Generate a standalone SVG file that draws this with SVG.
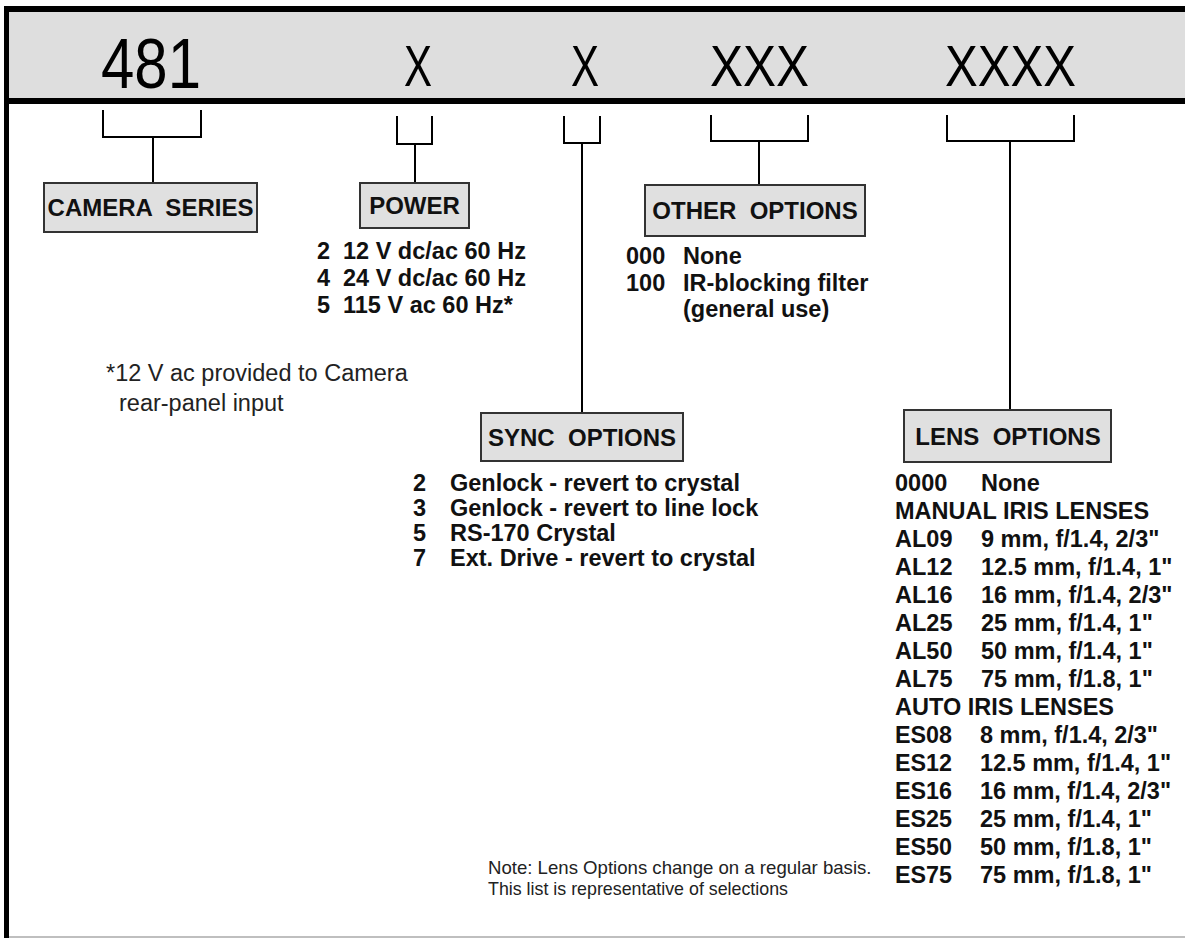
<svg xmlns="http://www.w3.org/2000/svg" width="1185" height="938" viewBox="0 0 1185 938">
<style>
.hdr{font-family:"Liberation Sans",Arial,sans-serif;fill:#000}
.box rect{fill:#e0e0e0;stroke:#333;stroke-width:2}
.lbl{font-family:"Liberation Sans",Arial,sans-serif;font-weight:bold;font-size:24px;fill:#111;text-anchor:middle;white-space:pre}
.b{font-family:"Liberation Sans",Arial,sans-serif;font-weight:bold;font-size:23.5px;fill:#111}
.n{font-family:"Liberation Sans",Arial,sans-serif;font-weight:bold;font-size:24px;fill:#111}
.r{font-family:"Liberation Sans",Arial,sans-serif;font-size:23.5px;fill:#222}
.rn{font-family:"Liberation Sans",Arial,sans-serif;font-size:18.6px;fill:#222}
.conn path{fill:none;stroke:#000;stroke-width:2}
</style>
<rect x="0" y="0" width="1185" height="938" fill="#fff"/>
<g id="header">
<rect x="7" y="9" width="1180" height="92" fill="#dedede"/>
<line x1="4" y1="9" x2="1185" y2="9" stroke="#000" stroke-width="6"/>
<line x1="4" y1="101" x2="1185" y2="101" stroke="#000" stroke-width="6"/>
<line x1="6.5" y1="6" x2="6.5" y2="938" stroke="#000" stroke-width="5"/>
<line x1="9" y1="937" x2="1185" y2="937" stroke="#aaa" stroke-width="1.5"/>
<text class="hdr" x="101" y="88" font-size="71" textLength="100" lengthAdjust="spacingAndGlyphs">481</text>
<text class="hdr" x="404" y="86" font-size="57" textLength="28" lengthAdjust="spacingAndGlyphs">X</text>
<text class="hdr" x="571" y="86" font-size="57" textLength="28" lengthAdjust="spacingAndGlyphs">X</text>
<text class="hdr" x="710" y="86" font-size="57" textLength="99" lengthAdjust="spacingAndGlyphs">XXX</text>
<text class="hdr" x="945" y="86" font-size="57" textLength="131" lengthAdjust="spacingAndGlyphs">XXXX</text>
</g>
<g id="connectors" class="conn">
<path d="M103 110 V137 H201 V110 M153 137 V183"/>
<path d="M397 116 V144 H432 V116 M415 144 V183"/>
<path d="M564 116 V143 H600 V116 M582 143 V413"/>
<path d="M711 115 V141 H808 V115 M759 141 V185"/>
<path d="M947 115 V141 H1074 V115 M1010 141 V410"/>
</g>
<g id="camera-series" class="box">
<rect x="44" y="183" width="213" height="49"/>
<text class="lbl" x="150.5" y="216" xml:space="preserve">CAMERA  SERIES</text>
<text class="r" x="106" y="381">*12 V ac provided to Camera</text>
<text class="r" x="119" y="411">rear-panel input</text>
</g>
<g id="power" class="box">
<rect x="360" y="183" width="109" height="45"/>
<text class="lbl" x="414.5" y="214">POWER</text>
<text class="b" x="317" y="259">2</text><text class="b" x="343" y="259">12 V dc/ac 60 Hz</text>
<text class="b" x="317" y="286">4</text><text class="b" x="343" y="286">24 V dc/ac 60 Hz</text>
<text class="b" x="317" y="313">5</text><text class="b" x="343" y="313">115 V ac 60 Hz*</text>
</g>
<g id="other-options" class="box">
<rect x="645" y="185" width="220" height="51"/>
<text class="lbl" x="755" y="219" xml:space="preserve">OTHER  OPTIONS</text>
<text class="b" x="626" y="264">000</text><text class="b" x="683" y="264">None</text>
<text class="b" x="626" y="291">100</text><text class="b" x="683" y="291">IR-blocking filter</text>
<text class="b" x="683" y="317">(general use)</text>
</g>
<g id="sync-options" class="box">
<rect x="481" y="413" width="202" height="48"/>
<text class="lbl" x="582" y="445.5" font-size="23.5" xml:space="preserve">SYNC  OPTIONS</text>
<text class="b" x="413" y="491">2</text><text class="b" x="450" y="491">Genlock - revert to crystal</text>
<text class="b" x="413" y="516">3</text><text class="b" x="450" y="516">Genlock - revert to line lock</text>
<text class="b" x="413" y="541">5</text><text class="b" x="450" y="541">RS-170 Crystal</text>
<text class="b" x="413" y="566">7</text><text class="b" x="450" y="566">Ext. Drive - revert to crystal</text>
</g>
<g id="lens-options" class="box">
<rect x="904" y="410" width="207" height="52"/>
<text class="lbl" x="1008" y="444.5" font-size="23.5" xml:space="preserve">LENS  OPTIONS</text>
<text class="b" x="895" y="491">0000</text><text class="b" x="981" y="491">None</text>
<text class="b" x="895" y="519">MANUAL IRIS LENSES</text>
<text class="b" x="895" y="547">AL09</text><text class="b" x="981" y="547">9 mm, f/1.4, 2/3"</text>
<text class="b" x="895" y="575">AL12</text><text class="b" x="981" y="575">12.5 mm, f/1.4, 1"</text>
<text class="b" x="895" y="603">AL16</text><text class="b" x="981" y="603">16 mm, f/1.4, 2/3"</text>
<text class="b" x="895" y="631">AL25</text><text class="b" x="981" y="631">25 mm, f/1.4, 1"</text>
<text class="b" x="895" y="659">AL50</text><text class="b" x="981" y="659">50 mm, f/1.4, 1"</text>
<text class="b" x="895" y="687">AL75</text><text class="b" x="981" y="687">75 mm, f/1.8, 1"</text>
<text class="n" x="895" y="715" textLength="219" lengthAdjust="spacingAndGlyphs">AUTO IRIS LENSES</text>
<text class="n" x="895" y="743" textLength="57" lengthAdjust="spacingAndGlyphs">ES08</text><text class="n" x="980" y="743" textLength="178" lengthAdjust="spacingAndGlyphs">8 mm, f/1.4, 2/3"</text>
<text class="n" x="895" y="771" textLength="57" lengthAdjust="spacingAndGlyphs">ES12</text><text class="n" x="980" y="771" textLength="191" lengthAdjust="spacingAndGlyphs">12.5 mm, f/1.4, 1"</text>
<text class="n" x="895" y="799" textLength="57" lengthAdjust="spacingAndGlyphs">ES16</text><text class="n" x="980" y="799" textLength="191" lengthAdjust="spacingAndGlyphs">16 mm, f/1.4, 2/3"</text>
<text class="n" x="895" y="827" textLength="57" lengthAdjust="spacingAndGlyphs">ES25</text><text class="n" x="980" y="827" textLength="172" lengthAdjust="spacingAndGlyphs">25 mm, f/1.4, 1"</text>
<text class="n" x="895" y="855" textLength="57" lengthAdjust="spacingAndGlyphs">ES50</text><text class="n" x="980" y="855" textLength="172" lengthAdjust="spacingAndGlyphs">50 mm, f/1.8, 1"</text>
<text class="n" x="895" y="883" textLength="57" lengthAdjust="spacingAndGlyphs">ES75</text><text class="n" x="980" y="883" textLength="172" lengthAdjust="spacingAndGlyphs">75 mm, f/1.8, 1"</text>
<text class="rn" x="488" y="874">Note: Lens Options change on a regular basis.</text>
<text class="rn" x="488" y="895" textLength="300" lengthAdjust="spacingAndGlyphs">This list is representative of selections</text>
</g>
</svg>
